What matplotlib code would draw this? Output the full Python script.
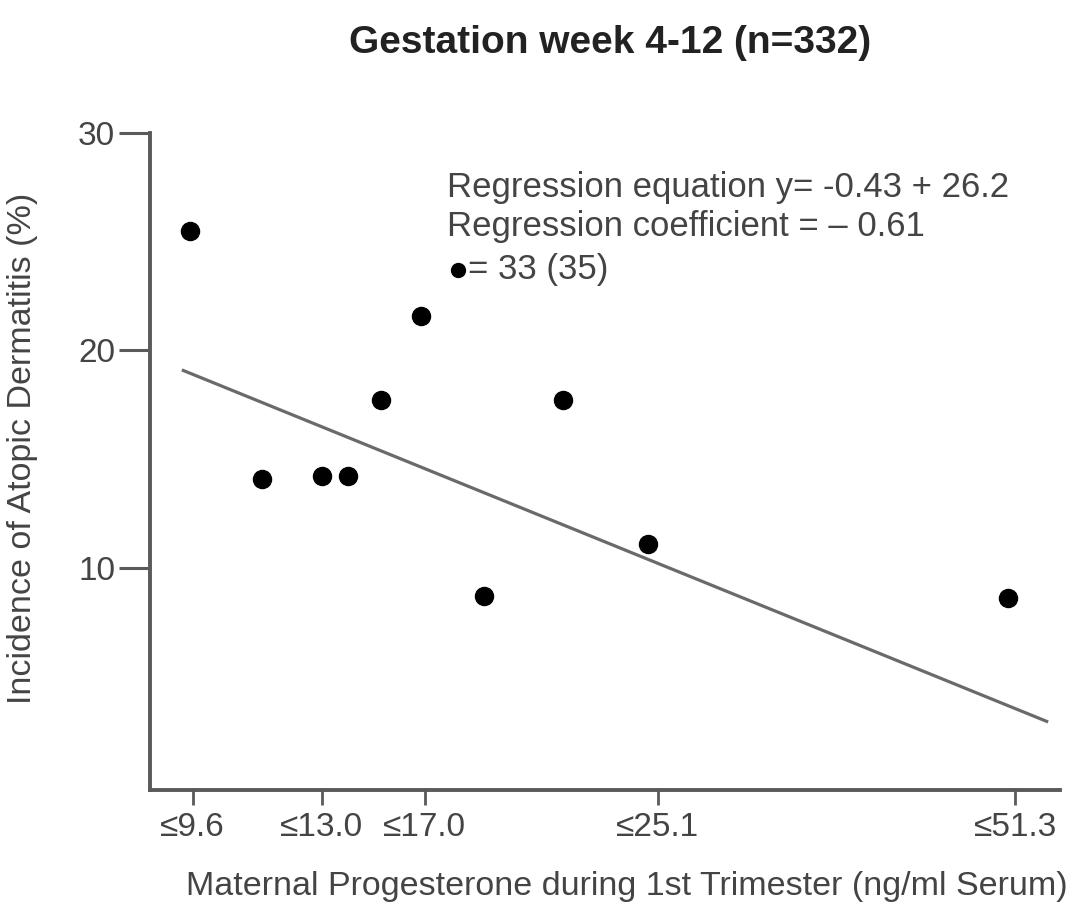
import matplotlib
matplotlib.use("Agg")
import matplotlib.pyplot as plt

# Progesterone groups: plot position along the axis and incidence (%)
group_pos = [4.4, 12.3, 18.9, 21.8, 25.4, 29.8, 36.7, 45.4, 54.7, 94.3]
incidence = [25.5, 14.1, 14.2, 14.2, 17.7, 21.6, 8.7, 17.7, 11.1, 8.6]

# Upper limits of the groups shown on the x axis
tick_pos = [4.7, 18.9, 30.2, 55.8, 95.1]
tick_labels = ["≤9.6", "≤13.0", "≤17.0", "≤25.1", "≤51.3"]

# Fitted regression line endpoints
fit_x = [3.5, 98.7]
fit_y = [19.1, 2.9]

y_ticks = [10, 20, 30]

plt.rcParams["font.family"] = ["Liberation Sans", "DejaVu Sans"]

text_col = "#444444"
axis_col = "#5a5a5a"

fig = plt.figure(figsize=(10.77, 9.07), dpi=100)
ax = fig.add_axes([150 / 1077, 1 - 790 / 907, 910 / 1077, (790 - 133) / 907])

ax.plot(fit_x, fit_y, color="#6a6a6a", lw=2.3, solid_capstyle="butt")
ax.plot(group_pos, incidence, "o", color="black", ms=13, clip_on=False)

ax.set_xlim(0, 100)
ax.set_ylim(-0.23, 30)

for s in ("top", "right"):
    ax.spines[s].set_visible(False)
for s in ("left", "bottom"):
    ax.spines[s].set_color(axis_col)
    ax.spines[s].set_linewidth(2.8)

ax.set_yticks(y_ticks)
ax.set_yticklabels([str(v) for v in y_ticks])
ax.set_xticks(tick_pos)
ax.set_xticklabels(tick_labels)
ax.tick_params(axis="y", length=22, width=2.2, color=axis_col, pad=3,
               labelsize=24, labelcolor=text_col)
ax.tick_params(axis="x", length=11, width=2.0, color=axis_col, pad=5,
               labelsize=24, labelcolor=text_col)

ax.set_ylabel("Incidence of Atopic Dermatitis (%)", fontsize=24.5, color=text_col)
ax.yaxis.set_label_coords(-0.123, 0.52)
ax.set_xlabel("Maternal Progesterone during 1st Trimester (ng/ml Serum)",
              fontsize=24.5, color=text_col, va="center")
ax.xaxis.set_label_coords(0.524, -0.147)

fig.text(0.566, 1 - 43 / 907, "Gestation week 4-12 (n=332)", ha="center", va="center",
         fontsize=28, fontweight="bold", color="#222222")

ann = dict(fontsize=25, color=text_col, va="center", ha="left")
ax.text(32.6, 27.5, "Regression equation y= -0.43 + 26.2", **ann)
ax.text(32.6, 25.7, "Regression coefficient = \u2013 0.61", **ann)
ax.plot([33.9], [23.7], "o", color="black", ms=10)
ax.text(35.0, 23.7, "= 33 (35)", **ann)

fig.savefig("out.png", dpi=100)
